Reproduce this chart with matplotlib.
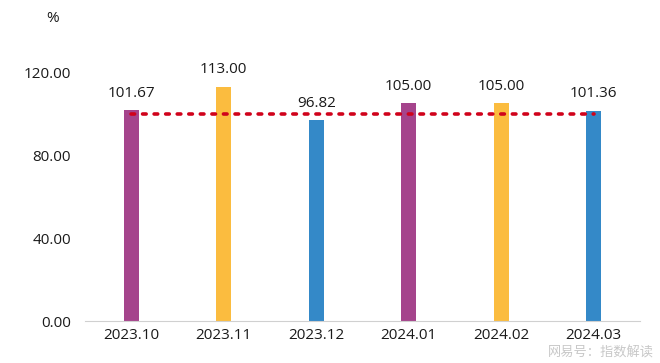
import matplotlib.pyplot as plt

plt.rcParams['font.family'] = ['Open Sans', 'Noto Sans CJK SC', 'DejaVu Sans']

meses = ['2023.10', '2023.11', '2023.12', '2024.01', '2024.02', '2024.03']
valores = [101.67, 113.00, 96.82, 105.00, 105.00, 101.36]
rotulos = ['101.67', '113.00', '96.82', '105.00', '105.00', '101.36']
cores = ['#A5448C', '#FBBC3F', '#3489C8', '#A5448C', '#FBBC3F', '#3489C8']
ref = 100

fig = plt.figure(figsize=(6.6, 3.63), dpi=100)
ax = fig.add_axes([0.1288, 0.1157, 0.8409, 0.80])

x = list(range(len(meses)))
ax.bar(x, valores, width=0.16, color=cores, zorder=2)
for xi, v, r in zip(x, valores, rotulos):
    ax.text(xi, v + 4.5, r, ha='center', va='bottom', fontsize=11, color='#1a1a1a')

# linha de referencia em 100
ax.plot([x[0], x[-1]], [ref, ref], color='#D0021B', linestyle=(0, (1, 2.2)),
        linewidth=2.6, dash_capstyle='round', zorder=3)

ax.set_xlim(-0.5, 5.5)
ax.set_ylim(0, 140)
ax.set_yticks([0, 40, 80, 120])
ax.set_yticklabels(['0.00', '40.00', '80.00', '120.00'])
ax.set_xticks(x)
ax.set_xticklabels(meses)
ax.tick_params(axis='both', length=0, labelsize=11, colors='#1a1a1a')
ax.tick_params(axis='y', pad=10)
ax.tick_params(axis='x', pad=5)
for s in ['top', 'right', 'left']:
    ax.spines[s].set_visible(False)
ax.spines['bottom'].set_color('#d0d0d0')

fig.text(0.079, 0.95, '%', fontsize=11, ha='center', va='center', color='#1a1a1a')
fig.text(0.99, 0.01, '网易号：指数解读', fontsize=9.5, ha='right', va='bottom',
         color='#c8c8c8', family=['Noto Sans CJK SC'])

plt.savefig('out.png', dpi=100)
